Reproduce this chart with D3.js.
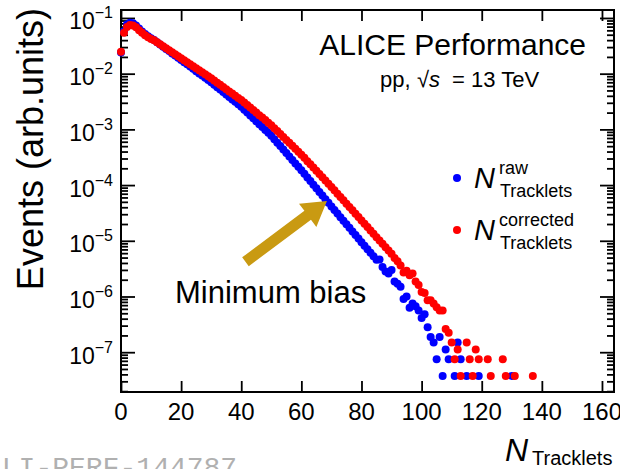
<!DOCTYPE html>
<html>
<head>
<meta charset="utf-8">
<script src="https://cdn.jsdelivr.net/npm/d3@7"></script>
<style>
  body { margin: 0; background: #fff; }
  svg { display: block; font-family: "Liberation Sans", Arial, sans-serif; }
</style>
</head>
<body>
<div id="chart"></div>
<script>
// index of each entry = N_Tracklets bin, null = empty bin
const rawEvents = [
  0.024, 0.0575, 0.0767, 0.0822, 0.0804, 0.0733, 0.0646, 0.0569, 0.0513, 0.0468,
  0.0432, 0.0403, 0.0366, 0.0334, 0.0305, 0.0278, 0.0254, 0.0231, 0.0211, 0.0193,
  0.0176, 0.0161, 0.0147, 0.0134, 0.0122, 0.0111, 0.0101, 0.00925, 0.00843, 0.00769,
  0.00701, 0.00634, 0.00573, 0.00518, 0.00468, 0.00423, 0.00382, 0.00345, 0.00312, 0.00282,
  0.00255, 0.00226, 0.00200, 0.00178, 0.00158, 0.00140, 0.00124, 0.00110, 9.77e-4, 8.67e-4,
  7.69e-4, 6.67e-4, 5.78e-4, 5.01e-4, 4.35e-4, 3.77e-4, 3.27e-4, 2.83e-4, 2.45e-4, 2.13e-4,
  1.85e-4, 1.59e-4, 1.37e-4, 1.18e-4, 1.01e-4, 8.73e-5, 7.52e-5, 6.47e-5, 5.57e-5, 4.80e-5,
  4.13e-5, 3.56e-5, 3.08e-5, 2.65e-5, 2.29e-5, 1.98e-5, 1.71e-5, 1.47e-5, 1.27e-5, 1.10e-5,
  9.46e-6, 8.18e-6, 7.08e-6, 6.12e-6, 5.30e-6, 4.58e-6, 4.6e-6, 3.4e-6, 2.8e-6, 2.6e-6,
  3.0e-6, 1.85e-6, 1.7e-6, 1.5e-6, 9.0e-7, 1.0e-6, 6.3e-7, 7.5e-7, 6.7e-7, 5.6e-7,
  4.1e-7, 4.8e-7, 2.8e-7, 1.87e-7, 1.5e-7, 7.5e-8, 1.87e-7, 3.74e-8, 1.12e-7, 7.5e-8,
  null, 3.74e-8, 1.5e-7, 7.5e-8, null, 3.74e-8, null, null, null, 3.74e-8,
  null, null, null, null, null, null, null, null, null, null,
  3.74e-8
];

const correctedEvents = [
  0.0248, 0.054, 0.069, 0.075, 0.073, 0.068, 0.060, 0.054, 0.049, 0.045,
  0.042, 0.040, 0.0366, 0.0337, 0.0310, 0.0286, 0.0263, 0.0242, 0.0223, 0.0205,
  0.0189, 0.0174, 0.0160, 0.0147, 0.01355, 0.01247, 0.01148, 0.01057, 0.00973, 0.00895,
  0.00824, 0.00753, 0.00689, 0.00630, 0.00575, 0.00526, 0.00481, 0.00440, 0.00402, 0.00367,
  0.00336, 0.00303, 0.00273, 0.00246, 0.00222, 0.00200, 0.00180, 0.00163, 0.00147, 0.00132,
  0.00119, 0.00105, 9.33e-4, 8.26e-4, 7.31e-4, 6.47e-4, 5.73e-4, 5.07e-4, 4.49e-4, 3.97e-4,
  3.52e-4, 3.08e-4, 2.69e-4, 2.36e-4, 2.06e-4, 1.80e-4, 1.58e-4, 1.38e-4, 1.21e-4, 1.06e-4,
  9.25e-5, 8.05e-5, 7.01e-5, 6.11e-5, 5.32e-5, 4.63e-5, 4.04e-5, 3.52e-5, 3.06e-5, 2.67e-5,
  2.32e-5, 2.02e-5, 1.76e-5, 1.53e-5, 1.34e-5, 1.16e-5, 1.01e-5, 8.83e-6, 7.69e-6, 6.70e-6,
  5.83e-6, 4.9e-6, 4.3e-6, 3.6e-6, 2.7e-6, 2.9e-6, 2.4e-6, 2.6e-6, 1.85e-6, 1.6e-6,
  1.2e-6, 1.15e-6, 8.6e-7, 8.6e-7, 7.5e-7, 6.4e-7, 5.6e-7, 5.6e-7, 2.6e-7, 2.24e-7,
  1.5e-7, 7.5e-8, 1.12e-7, 3.74e-8, null, 1.5e-7, 7.5e-8, 3.74e-8, 1.12e-7, 7.5e-8,
  null, null, 7.5e-8, 3.74e-8, null, null, null, 7.5e-8, 3.74e-8, null,
  null, 3.74e-8, null, null, null, null, null, 3.74e-8
];

const xTicks = [0, 20, 40, 60, 80, 100, 120, 140, 160];
const yTickExponents = [-7, -6, -5, -4, -3, -2, -1];
// annotation arrow, in data coordinates [N, events]
const arrowFrom = [41.4, 4.2e-6];
const arrowTo = [68.5, 5.2e-5];

const width = 620, height = 469;
const frame = { left: 121, top: 10, right: 614, bottom: 392 };

const svg = d3.select("#chart")
              .append("svg")
              .attr("width", width)
              .attr("height", height);

const x = d3.scaleLinear()
            .domain([0, 164])
            .range([frame.left, frame.right]);

const y = d3.scaleLog()
            .domain([1.93e-8, 0.139])
            .range([frame.bottom, frame.top]);

// log minor ticks 2..9 in each decade
const majorTicks = yTickExponents.map(e => Math.pow(10, e));
const minorTicks = [];
for (let e = -8; e <= -2; e++) {
    for (let m = 2; m <= 9; m++) minorTicks.push(m * Math.pow(10, e));
}

function tickAxis(axis, ticks, size, tx, ty) {
    const g = svg.append("g")
                 .attr("transform", `translate(${tx},${ty})`)
                 .call(axis.tickValues(ticks).tickSize(size).tickFormat(""));
    g.select(".domain").remove();
    g.selectAll("line").attr("stroke", "#000").attr("stroke-width", 1.8);
}
tickAxis(d3.axisLeft(y), majorTicks, -14, frame.left, 0);
tickAxis(d3.axisLeft(y), minorTicks, -7, frame.left, 0);
tickAxis(d3.axisRight(y), majorTicks, -14, frame.right, 0);
tickAxis(d3.axisRight(y), minorTicks, -7, frame.right, 0);
tickAxis(d3.axisBottom(x), xTicks, -11, 0, frame.bottom);
tickAxis(d3.axisTop(x), xTicks, -11, 0, frame.top);

svg.append("rect")
   .attr("x", frame.left)
   .attr("y", frame.top)
   .attr("width", frame.right - frame.left)
   .attr("height", frame.bottom - frame.top)
   .attr("fill", "none")
   .attr("stroke", "#000")
   .attr("stroke-width", 2);

// tick labels
svg.append("g")
   .selectAll("text")
   .data(xTicks)
   .enter()
   .append("text")
   .attr("x", d => x(d))
   .attr("y", 420)
   .attr("text-anchor", "middle")
   .attr("font-size", 24)
   .text(d => d);

yTickExponents.forEach(e => {
    const t = svg.append("text")
                 .attr("x", 113)
                 .attr("y", y(Math.pow(10, e)) + 11.5)
                 .attr("text-anchor", "end")
                 .attr("font-size", 23);
    t.append("tspan").text("10");
    t.append("tspan").attr("font-size", 16).attr("dy", -11).text("\u2212" + Math.abs(e));
});

// axis titles
svg.append("text")
   .attr("transform", "translate(43,0) rotate(-90)")
   .attr("x", -8)
   .attr("text-anchor", "end")
   .attr("font-size", 36)
   .text("Events (arb.units)");

svg.append("text")
   .attr("x", 505)
   .attr("y", 461)
   .attr("font-size", 32)
   .attr("font-style", "italic")
   .text("N");
svg.append("text")
   .attr("x", 532)
   .attr("y", 465)
   .attr("font-size", 20)
   .text("Tracklets");

// data points, corrected drawn over raw
const toPoints = arr => arr.map((v, i) => ({ n: i, v: v })).filter(d => d.v != null);

svg.append("g")
   .selectAll("circle")
   .data(toPoints(rawEvents))
   .enter()
   .append("circle")
   .attr("cx", d => x(d.n))
   .attr("cy", d => y(d.v))
   .attr("r", 4)
   .attr("fill", "#0000ff");

svg.append("g")
   .selectAll("circle")
   .data(toPoints(correctedEvents))
   .enter()
   .append("circle")
   .attr("cx", d => x(d.n))
   .attr("cy", d => y(d.v))
   .attr("r", 4)
   .attr("fill", "#ff0000");

// arrow
const p0 = [x(arrowFrom[0]), y(arrowFrom[1])];
const p1 = [x(arrowTo[0]), y(arrowTo[1])];
const len = Math.hypot(p1[0] - p0[0], p1[1] - p0[1]);
const ux = (p1[0] - p0[0]) / len, uy = (p1[1] - p0[1]) / len;
const nx = -uy, ny = ux;
const shaft = 5.5, head = 14.5, headLen = 24;
const bx = p1[0] - ux * headLen, by = p1[1] - uy * headLen;
const arrowPts = [
    [p0[0] + nx * shaft, p0[1] + ny * shaft],
    [bx + nx * shaft, by + ny * shaft],
    [bx + nx * head, by + ny * head],
    p1,
    [bx - nx * head, by - ny * head],
    [bx - nx * shaft, by - ny * shaft],
    [p0[0] - nx * shaft, p0[1] - ny * shaft]
];
svg.append("path")
   .attr("d", d3.line()(arrowPts) + "Z")
   .attr("fill", "#c99a12");

// annotations
svg.append("text")
   .attr("x", 586)
   .attr("y", 55)
   .attr("text-anchor", "end")
   .attr("font-size", 30)
   .text("ALICE Performance");

const energy = svg.append("g").attr("font-size", 22);
energy.append("text").attr("x", 380).attr("y", 87).text("pp,");
energy.append("text").attr("x", 417).attr("y", 87).text("\u221A");
energy.append("text").attr("x", 429).attr("y", 87).attr("font-style", "italic").text("s");
energy.append("text").attr("x", 452).attr("y", 87).text("= 13 TeV");

svg.append("text")
   .attr("x", 175)
   .attr("y", 303)
   .attr("font-size", 31)
   .text("Minimum bias");

// legend
const legend = [
    { color: "#0000ff", sup: "raw", cy: 178 },
    { color: "#ff0000", sup: "corrected", cy: 230 }
];
legend.forEach(l => {
    svg.append("circle").attr("cx", 457).attr("cy", l.cy).attr("r", 4).attr("fill", l.color);
    svg.append("text").attr("x", 474).attr("y", l.cy + 10).attr("font-size", 29)
       .attr("font-style", "italic").text("N");
    svg.append("text").attr("x", 499).attr("y", l.cy - 4).attr("font-size", 18).text(l.sup);
    svg.append("text").attr("x", 500).attr("y", l.cy + 19).attr("font-size", 18).text("Tracklets");
});

// watermark, cut by the page bottom
svg.append("text")
   .attr("x", -15)
   .attr("y", 476)
   .attr("font-family", "Liberation Mono, monospace")
   .attr("font-size", 28)
   .attr("fill", "#b0b0b0")
   .text("ALI-PERF-144787");
</script>
</body>
</html>
